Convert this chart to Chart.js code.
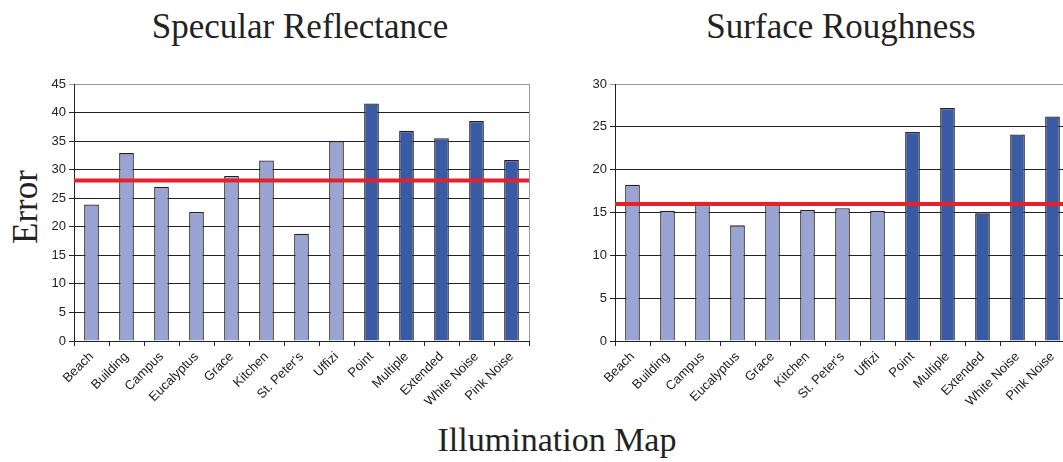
<!DOCTYPE html>
<html>
<head>
<meta charset="utf-8">
<script src="https://cdn.jsdelivr.net/npm/chart.js@4"></script>
<style>
body { margin: 0; width: 1063px; height: 462px; overflow: hidden; background: #fff; position: relative; font-family: 'Liberation Serif', 'Times New Roman', serif; color: #222; }
.lbl { position: absolute; white-space: nowrap; line-height: 1; transform: translateX(-50%); }
canvas { position: absolute; }
</style>
</head>
<body>
<div class="lbl" style="left:300px; top:9px; font-size:35px;">Specular Reflectance</div>
<div class="lbl" style="left:841px; top:9px; font-size:35px;">Surface Roughness</div>
<div class="lbl" style="left:25px; top:207px; font-size:35px; transform:translate(-50%,-50%) rotate(-90deg);">Error</div>
<div class="lbl" style="left:557px; top:423px; font-size:34px;">Illumination Map</div>
<canvas id="specChart" width="510" height="370" style="left:30px; top:70px;"></canvas>
<canvas id="roughChart" width="510" height="370" style="left:571px; top:70px;"></canvas>
<script>
// Data
const maps = ['Beach', 'Building', 'Campus', 'Eucalyptus', 'Grace', 'Kitchen', "St. Peter's", 'Uffizi',
    'Point', 'Multiple', 'Extended', 'White Noise', 'Pink Noise'];
const syntheticMaps = ['Point', 'Multiple', 'Extended', 'White Noise', 'Pink Noise'];

const specularError = [23.9, 32.9, 27.0, 22.6, 28.9, 31.6, 18.8, 35.0, 41.6, 36.8, 35.5, 38.5, 31.7];
const specularMean = 28.1;
const specularTicks = { max: 45, step: 5 };

const roughnessError = [18.25, 15.2, 16.25, 13.5, 16.25, 15.3, 15.5, 15.2, 24.4, 27.2, 14.9, 24.1, 26.2];
const roughnessMean = 16.0;
const roughnessTicks = { max: 30, step: 5 };

// Styles
const lightBlue = '#9AA4D3';
const darkBlue = '#3B5AA4';
const lineRed = '#E8202A';
const inkColor = '#222';

const barColor = (name) => syntheticMaps.includes(name) ? darkBlue : lightBlue;

// Red mean line across the full plot width, plus the grey right frame
const meanLinePlugin = {
    id: 'meanLine',
    afterDatasetsDraw(chart, args, opts) {
        const { ctx, chartArea, scales } = chart;
        const y = scales.y.getPixelForValue(opts.value);
        ctx.save();
        ctx.strokeStyle = '#9a9a9a';
        ctx.lineWidth = 1;
        ctx.beginPath();
        ctx.moveTo(chartArea.right + 0.5, chartArea.top);
        ctx.lineTo(chartArea.right + 0.5, chartArea.bottom);
        ctx.stroke();
        ctx.strokeStyle = lineRed;
        ctx.lineWidth = 4;
        ctx.beginPath();
        ctx.moveTo(chartArea.left, y);
        ctx.lineTo(chartArea.right, y);
        ctx.stroke();
        ctx.restore();
    }
};

const createErrorChart = (canvasId, values, mean, ticks) => {
    const ctx = document.getElementById(canvasId).getContext('2d');
    return new Chart(ctx, {
        type: 'bar',
        data: {
            labels: maps,
            datasets: [{
                data: values,
                backgroundColor: maps.map(barColor),
                borderColor: inkColor,
                borderWidth: 1.3,
                borderSkipped: 'bottom',
                barPercentage: 0.42,
                categoryPercentage: 1.0
            }]
        },
        options: {
            responsive: false,
            animation: false,
            devicePixelRatio: 1,
            layout: { padding: { top: 14, right: 11, left: 0, bottom: 0 } },
            plugins: {
                legend: { display: false },
                tooltip: { enabled: false },
                meanLine: { value: mean }
            },
            scales: {
                y: {
                    min: 0,
                    max: ticks.max,
                    afterFit: (scale) => { scale.width = 44; },
                    ticks: {
                        stepSize: ticks.step,
                        color: inkColor,
                        padding: 3,
                        font: { family: "'Liberation Sans', Arial, sans-serif", size: 13 }
                    },
                    grid: {
                        color: (c) => c.tick && c.tick.value === ticks.max ? '#9a9a9a' : inkColor,
                        lineWidth: 1,
                        tickLength: 5
                    },
                    border: { color: inkColor, width: 1 }
                },
                x: {
                    afterFit: (scale) => { scale.height = 99; },
                    ticks: {
                        minRotation: 45,
                        maxRotation: 45,
                        autoSkip: false,
                        color: inkColor,
                        padding: 3,
                        font: { family: "'Liberation Sans', Arial, sans-serif", size: 13 }
                    },
                    grid: {
                        offset: true,
                        drawOnChartArea: false,
                        color: inkColor,
                        tickLength: 5
                    },
                    border: { color: inkColor, width: 1 }
                }
            }
        },
        plugins: [meanLinePlugin]
    });
};

createErrorChart('specChart', specularError, specularMean, specularTicks);
createErrorChart('roughChart', roughnessError, roughnessMean, roughnessTicks);
</script>
</body>
</html>
